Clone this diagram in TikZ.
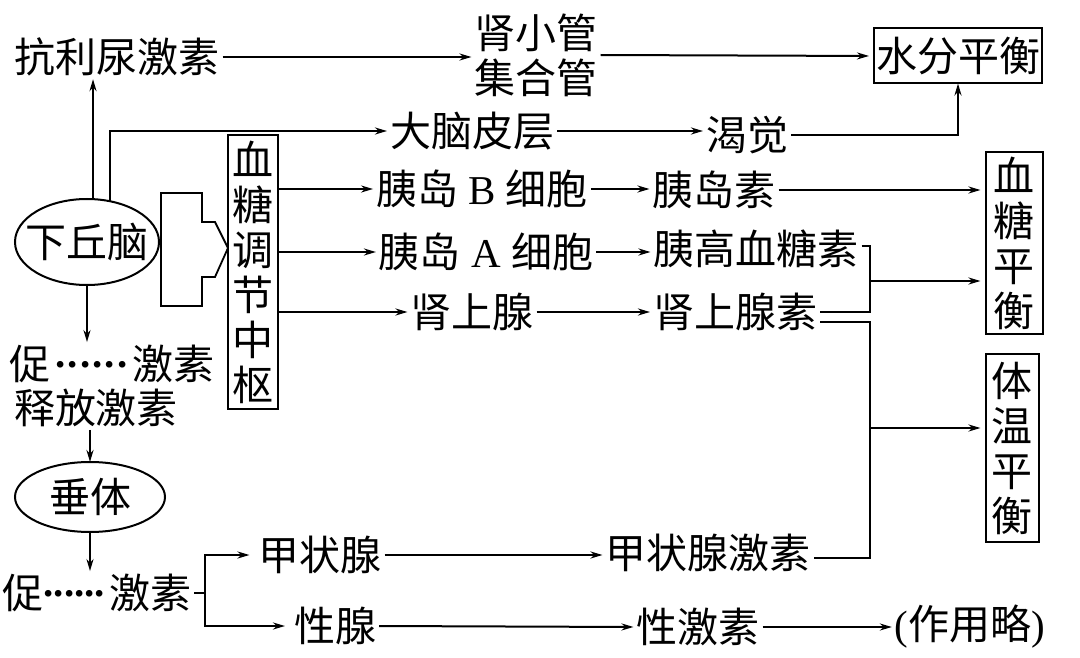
\documentclass[tikz,border=0pt]{standalone}
\usepackage{fontspec}
\setmainfont{Liberation Serif}
\newfontfamily\cjk{Noto Sans CJK SC}
\usetikzlibrary{arrows.meta,shapes.geometric}
\newcommand\dotrow[1]{\raisebox{0.3em}{\makebox[#1][s]{\rmfamily\bfseries .\hfill.\hfill.\hfill.\hfill.\hfill.}}}
\begin{document}
\begin{tikzpicture}[x=1pt,y=-1pt,line width=2pt,
  t/.style={font=\cjk\fontsize{41}{45}\selectfont, inner sep=0pt, outer sep=3pt},
  vbox/.style={t, draw, align=center, inner sep=0pt, outer sep=0pt},
  hbox/.style={t, draw, inner sep=0pt, outer sep=0pt},
  ellbox/.style={draw, ellipse, inner sep=0pt, outer sep=0pt},
  arr/.style={-{Stealth[length=12pt,width=7pt]}},
]
\useasboundingbox (0,0) rectangle (1080,658);

% nodes
\node[t] (kln) at (117,57) {抗利尿激素};
\node[t, align=center] (sxg) at (536,55) {肾小管\\集合管};
\node[hbox, minimum width=168, minimum height=55] (sf) at (958,56) {水分平衡};
\node[ellbox, minimum width=144, minimum height=86] (xqn) at (87,242) {};
\node[t] (xqnT) at (xqn) {下丘脑};
\node[t] (dnpc) at (472,131) {大脑皮层};
\node[t] (kj) at (747,135) {渴觉};
\node[vbox, minimum width=50, minimum height=273] (xtzs) at (253,272) {血\\糖\\调\\节\\中\\枢};
\node[t] (ydb) at (482,189) {胰岛\hspace{0.25em}{\rmfamily B}\hspace{0.25em}细胞};
\node[t] (yds) at (714,190) {胰岛素};
\node[vbox, minimum width=57, minimum height=182] (xtph) at (1014,243) {血\\糖\\平\\衡};
\node[t] (yda) at (486,252) {胰岛\hspace{0.25em}{\rmfamily A}\hspace{0.25em}细胞};
\node[t] (ygxts) at (756,249) {胰高血糖素};
\node[t] (ssx) at (472,312) {肾上腺};
\node[t] (ssxs) at (735,312) {肾上腺素};
\node[vbox, minimum width=53, minimum height=188] (twph) at (1012,448) {体\\温\\平\\衡};
\node[t] (cjs1) at (112,364) {促\hspace{0.12em}\dotrow{1.75em}\hspace{0.12em}激素};
\node[t] (sfjs) at (96,408) {释放激素};
\node[ellbox, minimum width=150, minimum height=70] (ct) at (90,497) {};
\node[t] (ctT) at (ct) {垂体};
\node[t] (cjs2) at (97,593) {促\dotrow{1.5em}\hspace{0.1em}激素};
\node[t] (jzx) at (320,555) {甲状腺};
\node[t] (xx) at (335,626) {性腺};
\node[t] (jzxjs) at (708,553) {甲状腺激素};
\node[t] (xjs) at (698,627) {性激素};
\node[t] (zyl) at (970,627) {{\rmfamily (}作用略{\rmfamily )}};

% hollow arrow from hypothalamus to the glucose centre
\draw[line width=1.8pt, line join=miter] (161,193) -- (202,193) -- (202,222) -- (215,222) -- (228,248)
  -- (215,277) -- (202,277) -- (202,306) -- (161,306) -- cycle;

% connectors
\draw[arr] (kln.east) -- (sxg.west |- kln.east);
\draw[arr, shorten >=5pt] (sxg.east) -- (sf.west);
\draw[arr] (xqn.82) -- (xqn.82 |- kln.south);
\draw[arr] (xqn.60) |- (dnpc.west);
\draw[arr] (dnpc.east) -- (kj.west |- dnpc.east);
\draw[arr] (kj.east) -| (sf.south);

\draw[arr] (xtzs.east |- ydb.west) -- (ydb.west);
\draw[arr] (xtzs.east |- yda.west) -- (yda.west);
\draw[arr] (xtzs.east |- ssx.west) -- (ssx.west);
\draw[arr] (ydb.east) -- (yds.west |- ydb.east);
\draw[arr] (yda.east) -- (ygxts.west |- yda.east);
\draw[arr] (ssx.east) -- (ssxs.west);
\draw[arr, shorten >=5pt] (yds.east) -- (xtph.west |- yds.east);

\coordinate (jA) at (870,281);
\coordinate (jB) at (870,428);
\draw ([yshift=3pt]ygxts.east) -| (jA) |- (ssxs.east);
\draw[arr, shorten >=5pt] (jA) -- (xtph.west |- jA);
\draw ([yshift=-10pt]ssxs.east) -| (jB) |- ([yshift=-5pt]jzxjs.east);
\draw[arr, shorten >=5pt] (jB) -- (twph.west |- jB);

\draw[arr] (xqn.south) -- (xqn.south |- cjs1.north);
\draw[arr] (sfjs.south -| ct.north) -- (ct.north);
\draw[arr] (ct.south) -- (ct.south |- cjs2.north);

\coordinate (br) at (205,593);
\draw (cjs2.east) -- (br);
\draw[arr, shorten >=6pt] (br) |- (jzx.west);
\draw[arr, shorten >=6pt] (br) |- (xx.west);
\draw[arr] (jzx.east) -- (jzxjs.west |- jzx.east);
\draw[arr] (xx.east) -- (xjs.west);
\draw[arr] (xjs.east) -- (zyl.west);
\end{tikzpicture}
\end{document}
